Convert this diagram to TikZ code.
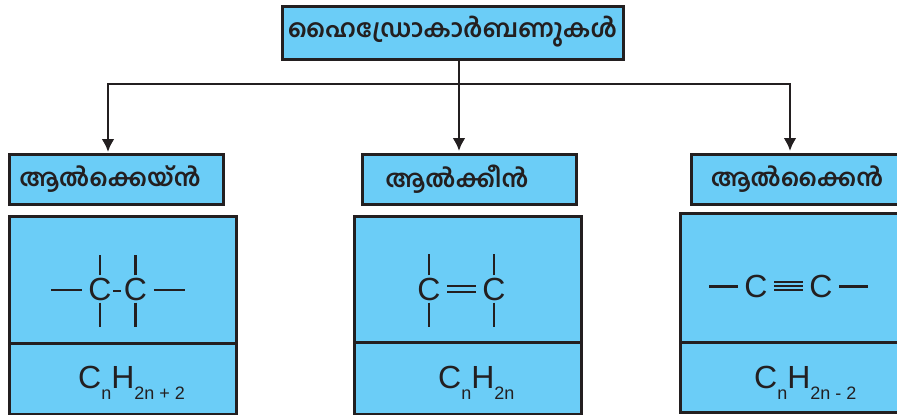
\documentclass[tikz,border=0pt]{standalone}
\usepackage{fontspec}
\setmainfont{Liberation Sans}
\newfontfamily\malfont[Script=Malayalam]{Hind Kochi}
\usetikzlibrary{arrows.meta}
\definecolor{boxblue}{HTML}{6BCDF7}
\definecolor{inkdark}{HTML}{231F20}
\newcommand{\subtext}[1]{\raisebox{-11pt}{\fontsize{18}{18}\selectfont #1}}
\tikzset{
  box/.style={rectangle,draw=inkdark,fill=boxblue,line width=3pt,inner sep=0pt},
  namebox/.style={box,minimum width=214pt,minimum height=50pt},
  cellbox/.style={box,minimum width=227pt},
  malname/.style={inner sep=0pt,text=inkdark,font=\malfont\bfseries\fontsize{24}{24}\selectfont},
  atom/.style={inner sep=0pt,inner xsep=6.5pt,inner ysep=2pt,text=inkdark,font=\fontsize{32}{32}\selectfont},
  formula/.style={anchor=base west,inner sep=0pt,text=inkdark,font=\fontsize{32}{32}\selectfont},
  bond/.style={draw=inkdark,line width=2.8pt},
  link/.style={draw=inkdark,line width=2.8pt},
  linkarrow/.style={link,-{Latex[length=13pt,width=13pt]}}
}
\begin{document}
\begin{tikzpicture}[x=1pt,y=-1pt]
      \useasboundingbox (0,0) rectangle (897,415);

      \node[box,minimum width=341pt,minimum height=53pt] (title) at (453,32.5) {};
      \node[malname,font=\malfont\bfseries\fontsize{24.8}{24.8}\selectfont] (titletext) at (452.5,32) {ഹൈഡ്രോകാർബണുകൾ};

      \node[namebox] (alkane) at (116,179) {};
      \node[namebox] (alkene) at (469,179) {};
      \node[namebox] (alkyne) at (798.5,179) {};
      \node[malname] (alkanename) at (110,179) {ആൽക്കെയ്ൻ};
      \node[malname] (alkenename) at (457,179) {ആൽക്കീൻ};
      \node[malname] (alkynename) at (797,179) {ആൽക്കൈൻ};

      % connectors
      \coordinate (junction) at (459,84);
      \coordinate (alkanetip) at (108,152);
      \coordinate (alkenetip) at (459,151);
      \coordinate (alkynetip) at (790,151);
      \draw[link] (title.south -| junction) -- (junction);
      \draw[linkarrow] (junction) -| (alkanetip);
      \draw[linkarrow] (junction) -- (alkenetip);
      \draw[linkarrow] (junction) -| (alkynetip);

      % cells
      \node[cellbox,minimum height=127pt] (alkanecell) at (122.5,279.5) {};
      \node[cellbox,minimum height=71pt] (alkanerow) at (122.5,378.5) {};
      \node[cellbox,minimum height=126pt] (alkenecell) at (467.5,279) {};
      \node[cellbox,minimum height=72pt] (alkenerow) at (467.5,378) {};
      \node[cellbox,minimum height=129pt] (alkynecell) at (793.5,277.5) {};
      \node[cellbox,minimum height=70pt] (alkynerow) at (793.5,377) {};

      % alkane
      \node[atom] (A) at (100,289) {C};
      \node[atom] (B) at (135.5,289) {C};
      \coordinate (ABl) at (113,291);
      \coordinate (ABr) at (121,291);
      \coordinate (Al) at (51,290);
      \coordinate (Ar) at (185,290);
      \coordinate (Au) at (100,255);
      \coordinate (Ad) at (100,327);
      \coordinate (Bu) at (135.5,255);
      \coordinate (Bd) at (135.5,327);
      \draw[bond] (ABl) -- (ABr);
      \draw[bond] (Al) -- (A.west |- Al);
      \draw[bond] (B.east |- Ar) -- (Ar);
      \draw[bond] (A.north) -- (Au);
      \draw[bond] (A.south) -- (Ad);
      \draw[bond] (B.north) -- (Bu);
      \draw[bond] (B.south) -- (Bd);

      % alkene
      \node[atom] (C) at (429,289) {C};
      \node[atom] (D) at (494,289) {C};
      \coordinate (Cu) at (429,254);
      \coordinate (Cd) at (429,327);
      \coordinate (Du) at (494,254);
      \coordinate (Dd) at (494,327);
      \draw[bond] (C.north) -- (Cu);
      \draw[bond] (C.south) -- (Cd);
      \draw[bond] (D.north) -- (Du);
      \draw[bond] (D.south) -- (Dd);
      \draw[bond] ([yshift=3pt]C.east) -- ([yshift=3pt]D.west);
      \draw[bond] ([yshift=-3pt]C.east) -- ([yshift=-3pt]D.west);

      % alkyne
      \node[atom] (E) at (756,286) {C};
      \node[atom] (F) at (821,286) {C};
      \coordinate (El) at (709,286.5);
      \coordinate (Fr) at (868,286.5);
      \draw[bond] (El) -- (E.west |- El);
      \draw[bond] (F.east |- Fr) -- (Fr);
      \draw[bond,line width=2pt] ([yshift=4.2pt]E.east) -- ([yshift=4.2pt]F.west);
      \draw[bond,line width=2pt] (E.east) -- (F.west);
      \draw[bond,line width=2pt] ([yshift=-4.2pt]E.east) -- ([yshift=-4.2pt]F.west);

      % formulas
      \node[formula] (alkaneformula) at (78,388) {C\subtext{n}H\subtext{2n + 2}};
      \node[formula] (alkeneformula) at (438,388) {C\subtext{n}H\subtext{2n}};
      \node[formula] (alkyneformula) at (754,388) {C\subtext{n}H\subtext{2n - 2}};
    \end{tikzpicture}
\end{document}
